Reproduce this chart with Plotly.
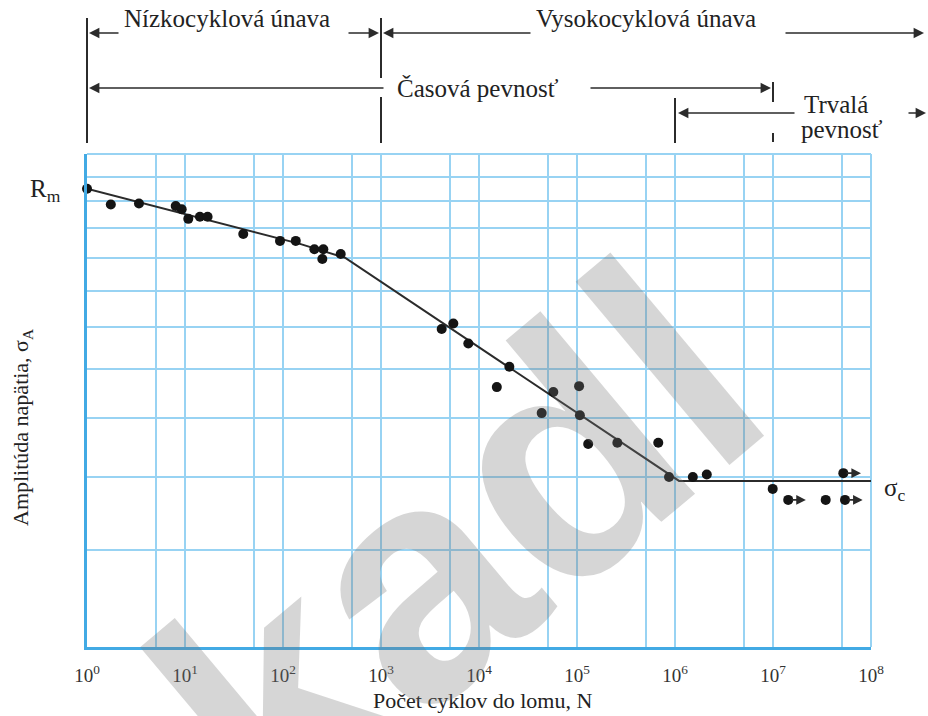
import numpy as np
import plotly.graph_objects as go

# ---- data: fatigue test results (cycles to failure N, stress amplitude in MPa) ----
cycles = [1, 1.75, 3.39, 8.04, 9.25, 10.8, 14.2, 17.0, 39.3, 93.2, 135, 209, 258, 252, 388,
          4160, 5470, 7780, 20400, 15200, 57300, 105000, 43600, 107000, 130000, 258000, 675000,
          869000, 1.52e6, 2.11e6, 9.93e6, 3.45e7]
stress = [605, 574, 576, 571, 565, 547, 551, 551, 520, 508, 508, 494, 494, 478, 486,
          378, 385, 360, 333, 311, 306, 312, 285, 283, 257, 258, 258,
          230, 230, 232, 221, 213]

# specimens that did not fail (run-outs)
runout_cycles = [1.43e7, 5.43e7, 5.22e7]
runout_stress = [213, 213, 233]

# fitted S-N (Wöhler) curve
curve_cycles = [1, 149, 429, 1235, 1.1e6, 1e8]
curve_stress = [605, 503, 480, 434, 227, 227]

RM = 605        # ultimate strength
SIGMA_C = 227   # fatigue limit

# grid values
x_grid = [m * 10 ** k for k in range(8) for m in (1, 5)] + [1e8]
x_labels = [f"10<sup>{k}</sup>" if m == 1 else "" for k in range(8) for m in (1, 5)] + ["10<sup>8</sup>"]
y_grid = list(range(130, 681, 50))

# ---- page geometry ----
W, H = 928, 716
ML, MR, MT, MB = 87, 57, 154, 69
PW, PH = W - ML - MR, H - MT - MB
DECADES = 8

def px_x(p):
    return (p - ML) / PW

def px_y(p):
    return (H - MB - p) / PH

def n_px(n):
    return ML + np.log10(n) / DECADES * PW

GRID = "#98d3f3"
AXIS = "#42aae4"
INK = "#2b2b2b"
SERIF = "Liberation Serif"

fig = go.Figure()

fig.add_trace(go.Scatter(
    x=curve_cycles, y=curve_stress, mode="lines",
    line=dict(color=INK, width=2), hoverinfo="skip", showlegend=False))

fig.add_trace(go.Scatter(
    x=cycles + runout_cycles, y=stress + runout_stress, mode="markers",
    marker=dict(color="#141414", size=10), showlegend=False, cliponaxis=False))

annotations = []
shapes = []

# run-out arrows
for n, s in zip(runout_cycles, runout_stress):
    annotations.append(dict(
        x=np.log10(n) + 0.18, y=np.log10(s), xref="x", yref="y",
        text="", showarrow=True, ax=-16, ay=0,
        arrowhead=2, arrowsize=1.2, arrowwidth=1.6, arrowcolor=INK))

def arrow(head_px, tail_px, y_px):
    annotations.append(dict(
        x=px_x(head_px), y=px_y(y_px), xref="paper", yref="paper",
        text="", showarrow=True, ax=tail_px - head_px, ay=0,
        arrowhead=2, arrowsize=1.3, arrowwidth=1.6, arrowcolor=INK))

def vline(x_px, y0, y1):
    shapes.append(dict(type="line", xref="paper", yref="paper",
                       x0=px_x(x_px), x1=px_x(x_px), y0=px_y(y0), y1=px_y(y1),
                       line=dict(color=INK, width=2)))

def label(text, x_px, y_px, size=25, xanchor="center", angle=0):
    annotations.append(dict(
        x=px_x(x_px), y=px_y(y_px), xref="paper", yref="paper",
        text=text, showarrow=False, xanchor=xanchor, yanchor="middle",
        textangle=angle, font=dict(family=SERIF, size=size, color="#222")))

x_n0, x_n3, x_n6, x_n7 = n_px(1), n_px(1e3), n_px(1e6), n_px(1e7)

# region brackets above the plot
vline(x_n0, 18, 143)
vline(x_n3, 18, 78)
vline(x_n3, 97, 143)
vline(x_n7, 82, 102)
vline(x_n7, 133, 142)
vline(x_n6, 98, 143)

# low-cycle / high-cycle fatigue
arrow(x_n0 + 2, 120, 33)
arrow(x_n3 - 2, 347, 33)
label("Nízkocyklová únava", 227, 19)
arrow(x_n3 + 2, 532, 33)
arrow(924, 784, 33)
label("Vysokocyklová únava", 646, 19)

# finite life
arrow(x_n0 + 2, 385, 88)
label("Časová pevnosť", 478, 89)
arrow(x_n7 - 2, 589, 88)

# endurance
arrow(x_n6 + 3, 796, 113)
arrow(926, 907, 113)
label("Trvalá", 802, 104, xanchor="left")
label("pevnosť", 799, 129, xanchor="left")

# axis titles
label("Počet cyklov do lomu, N", 482, 700, size=22)
label("Amplitúda napätia, σ<sub>A</sub>", 22, 428, size=22, angle=-90)

# strength levels
annotations.append(dict(x=px_x(45), y=np.log10(RM), xref="paper", yref="y",
                        text="R<sub>m</sub>", showarrow=False, yshift=-2,
                        xanchor="center", yanchor="middle",
                        font=dict(family=SERIF, size=25, color="#222")))
annotations.append(dict(x=px_x(894), y=np.log10(SIGMA_C), xref="paper", yref="y",
                        text="σ<sub>c</sub>", showarrow=False, yshift=-9,
                        xanchor="center", yanchor="middle",
                        font=dict(family=SERIF, size=25, color="#222")))

# plot frame: top and right edges in grid colour
shapes.append(dict(type="line", xref="paper", yref="paper", x0=0, x1=1, y0=1, y1=1,
                   line=dict(color=GRID, width=2), layer="below"))
shapes.append(dict(type="line", xref="paper", yref="paper", x0=1, x1=1, y0=0, y1=1,
                   line=dict(color=GRID, width=2), layer="below"))

# watermark
annotations.append(dict(
    x=px_x(455), y=px_y(545), xref="paper", yref="paper",
    xanchor="center", yanchor="middle",
    text="<b>kadl</b>", showarrow=False, textangle=-40,
    font=dict(family="Liberation Sans", size=330, color="rgba(120,120,120,0.3)")))

fig.update_layout(
    width=W, height=H,
    margin=dict(l=ML, r=MR, t=MT, b=MB),
    paper_bgcolor="white", plot_bgcolor="white",
    showlegend=False,
    annotations=annotations, shapes=shapes,
    xaxis=dict(type="log", range=[0, DECADES], tickmode="array",
               tickvals=x_grid, ticktext=x_labels, ticks="", ticklabelstandoff=9,
               showgrid=True, gridcolor=GRID, gridwidth=2, zeroline=False,
               showline=True, linecolor=AXIS, linewidth=3,
               tickfont=dict(family=SERIF, size=19, color="#333")),
    yaxis=dict(type="log", range=[np.log10(130), np.log10(680)], tickmode="array",
               tickvals=y_grid, showticklabels=False, ticks="",
               showgrid=True, gridcolor=GRID, gridwidth=2, zeroline=False,
               showline=True, linecolor=AXIS, linewidth=3),
)

fig.write_html("out.html")
